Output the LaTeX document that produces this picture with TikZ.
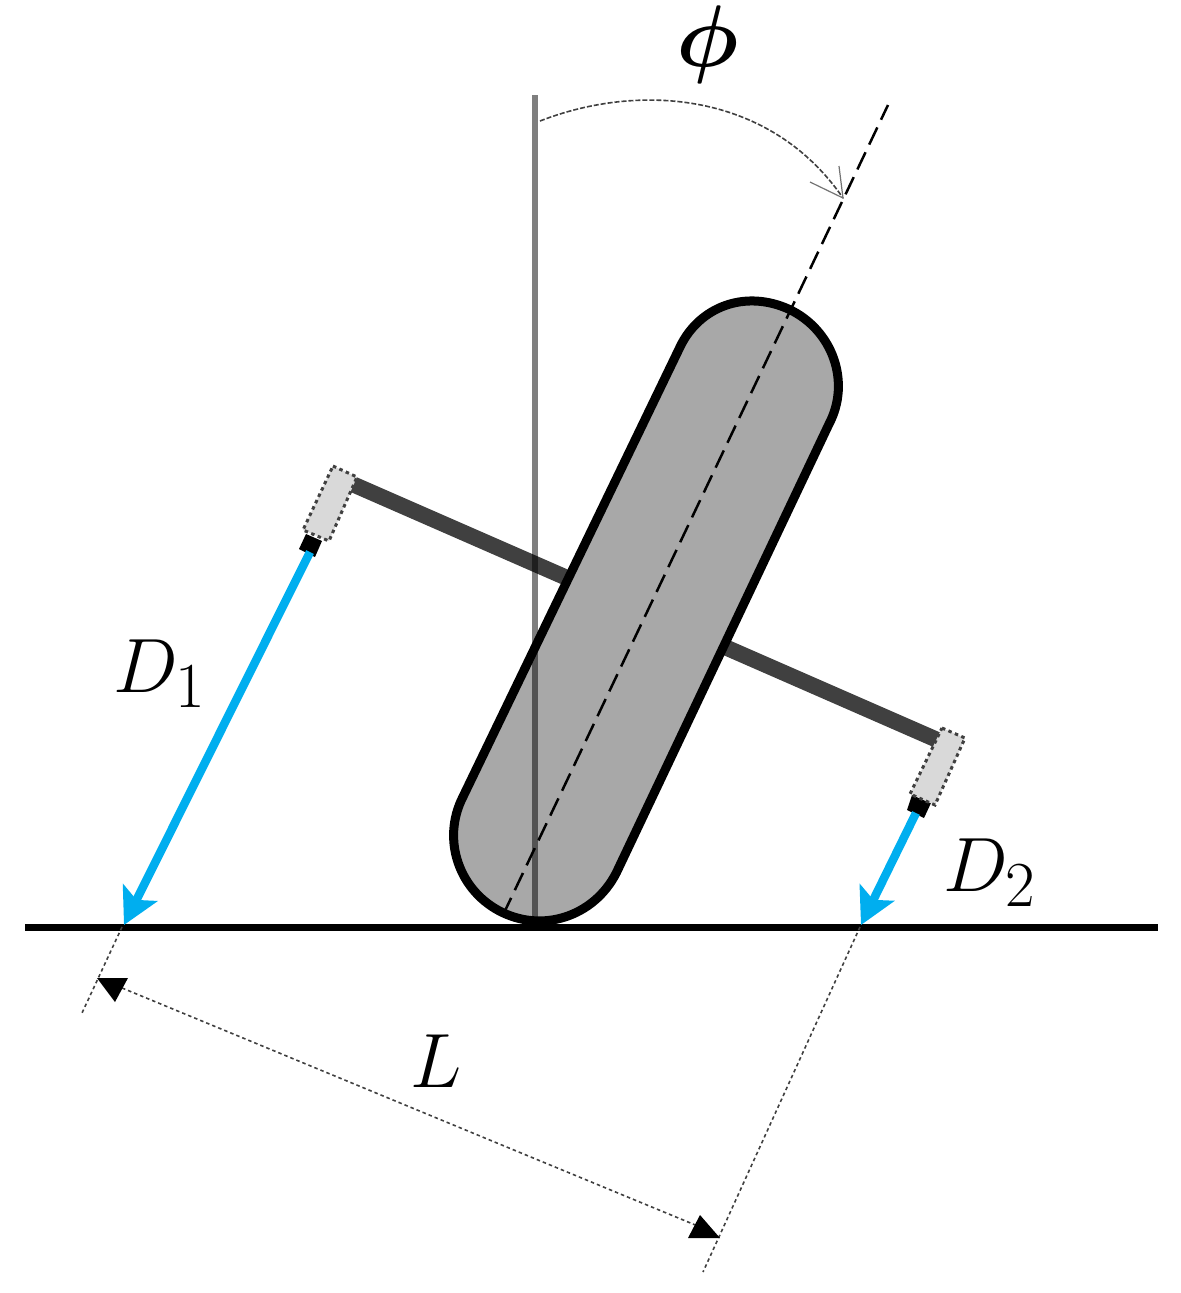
\documentclass[tikz,border=0pt]{standalone}
\usepackage{graphicx}
\usetikzlibrary{arrows.meta}
\definecolor{wheelgray}{HTML}{A8A8A8}
\definecolor{armgray}{HTML}{404040}
\definecolor{sensorgray}{HTML}{D9D9D9}
\definecolor{rayblue}{HTML}{00AEEF}
\tikzset{
  wheel/.style={draw=black,fill=wheelgray,line width=0.09cm,line join=round},
  arm/.style={draw=armgray,line width=0.16cm},
  sensor/.style={draw=black!75,fill=sensorgray,line width=0.03cm,dash pattern=on 0.035cm off 0.035cm},
  tipbox/.style={fill=black,draw=none},
  axisline/.style={draw=black,line width=0.025cm,dash pattern=on 0.19cm off 0.085cm},
  vertline/.style={draw=black,opacity=0.5,line width=0.055cm},
  ground/.style={draw=black,line width=0.07cm},
  ray/.style={draw=rayblue,line width=0.085cm,-{Stealth[length=0.36cm,width=0.38cm,inset=0.08cm]}},
  dimline/.style={draw=black!75,line width=0.016cm,dash pattern=on 0.035cm off 0.03cm},
  arcline/.style={draw=black!75,line width=0.016cm,dash pattern=on 0.05cm off 0.02cm},
  arcbarb/.style={draw=black!55,line width=0.012cm},
  dimhead/.style={fill=black,draw=none},
  lbl/.style={inner sep=0pt,font=\Huge}
}
\begin{document}
\begin{tikzpicture}[x=0.01cm,y=-0.01cm]
\useasboundingbox (0,0) rectangle (1181,1293);
% named points
\coordinate (armA) at (350,483);
\coordinate (armB) at (942,742);
\coordinate (axisB) at (503,915);
\coordinate (axisT) at (888,105);
\coordinate (vT) at (535,95);
\coordinate (vB) at (535,925);
\coordinate (gL) at (25,927);
\coordinate (gR) at (1158,927);
\coordinate (s1) at (310,552);
\coordinate (e1) at (124,925);
\coordinate (s2) at (916,813);
\coordinate (e2) at (861,925);
\coordinate (wl1) at (122,927);
\coordinate (wl2) at (82,1013);
\coordinate (wr1) at (860,927);
\coordinate (wr2) at (703,1272);
\coordinate (dA) at (110,983);
\coordinate (dB) at (705,1229);
\coordinate (arcS) at (540,121);
\coordinate (arcE) at (843,198);
% arm
\draw[arm] (armA) -- (armB);
% wheel
\draw[wheel] (680,347) .. controls (699,307) and (745,289) .. (789.3,309.4)
  .. controls (832.6,330) and (851.2,382) .. (829,424)
  -- (618.6,868)
  .. controls (598,914.6) and (546,933.2) .. (502.7,912.6)
  .. controls (459.4,892) and (440.8,840) .. (463,796.7) -- cycle;
% sensors
\fill[tipbox] (306,534) -- (322,541) -- (315,557) -- (299,549) -- cycle;
\draw[sensor] (333,466) -- (357,477) -- (329,541) -- (303,530) -- cycle;
\fill[tipbox] (912,795) -- (931,803) -- (924,818) -- (907,810) -- cycle;
\draw[sensor] (942,728) -- (965,738) -- (935,805) -- (910,794) -- cycle;
% axes
\draw[axisline] (axisB) -- (axisT);
\draw[vertline] (vT) -- (vB);
\draw[ground] (gL) -- (gR);
% rays
\draw[ray] (s1) -- (e1);
\draw[ray] (s2) -- (e2);
% dimension
\draw[dimline] (wl1) -- (wl2);
\draw[dimline] (wr1) -- (wr2);
\draw[dimline] (dA) -- (dB);
\fill[dimhead] (97,978) -- (128,978) -- (115,1002) -- cycle;
\fill[dimhead] (700,1215) -- (720,1238) -- (688,1238) -- cycle;
% angle arc
\draw[arcline] (arcS) .. controls (640,82) and (770,92) .. (arcE);
\draw[arcbarb] (839,166) -- (arcE) -- (810,182);
% labels
\node[lbl] (phi) at (708,45) {\scalebox{1.0}{\boldmath$\phi$}};
\node[lbl] (d1) at (160,674) {\scalebox{0.88}{$D_1$}};
\node[lbl] (d2) at (990,873) {\scalebox{0.88}{$D_2$}};
\node[lbl] (len) at (436,1061) {\scalebox{0.88}{$L$}};
\end{tikzpicture}
\end{document}
